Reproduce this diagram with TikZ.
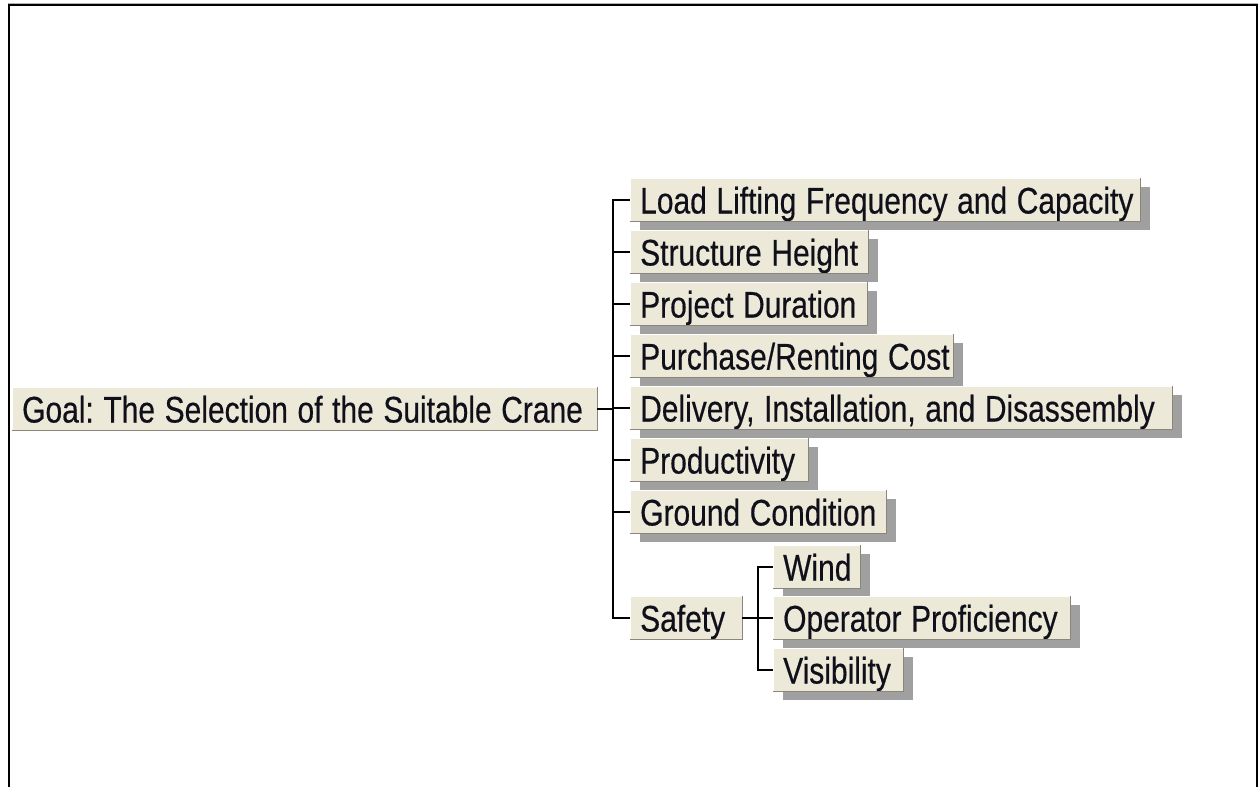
\documentclass[tikz,border=0pt]{standalone}
\usepackage{fontspec}
\setmainfont{Liberation Sans}[FakeStretch=0.81, FakeBold=0.4]
\usetikzlibrary{shadows}
\definecolor{btnface}{HTML}{ECE9D8}
\definecolor{shadowgray}{HTML}{A0A0A0}
\definecolor{btndark}{HTML}{8A877A}
\definecolor{inkc}{HTML}{10101A}
\newcommand\btnfont{\fontsize{37}{40}\selectfont}
\newcommand\btntext[1]{\mbox{\spaceskip=9.6pt\relax\xspaceskip=9.6pt\relax #1}}
\tikzset{
  btn/.style={fill=btnface, anchor=west, minimum height=43pt, inner xsep=10pt, inner ysep=0pt,
    align=left, text=inkc, font=\btnfont, text height=27pt, text depth=0pt},
  leaf/.style={btn, drop shadow={shadow xshift=10pt, shadow yshift=-8pt, fill=shadowgray, opacity=1}},
  wire/.style={line width=1.6pt, black},
  frameline/.style={line width=2pt, black},
}
\begin{document}
\begin{tikzpicture}[x=1pt,y=-1pt]
\useasboundingbox (0,0) rectangle (1259,787);
% frame
\draw[gray!60, line width=1pt] (8,3) -- (1258,3);
\draw[frameline] (9,787) -- (9,5) -- (1257,5) -- (1257,787);
% nodes
\node[btn, text width=565pt] (goal) at (12,409) {\btntext{Goal: The Selection of the Suitable Crane}};
\node[leaf, text width=490pt] (load) at (630,200) {\btntext{Load Lifting Frequency and Capacity}};
\node[leaf, text width=218pt] (struct) at (630,252) {\btntext{Structure Height}};
\node[leaf, text width=217pt] (proj) at (630,304) {\btntext{Project Duration}};
\node[leaf, text width=303pt] (cost) at (630,356) {\btntext{Purchase/Renting Cost}};
\node[leaf, text width=522pt] (deliv) at (630,408) {\btntext{Delivery, Installation, and Disassembly}};
\node[leaf, text width=158pt] (prod) at (630,460) {\btntext{Productivity}};
\node[leaf, text width=236pt] (ground) at (630,512) {\btntext{Ground Condition}};
\node[btn, text width=92pt] (safety) at (630,618) {\btntext{Safety}};
\node[leaf, text width=67pt] (wind) at (773,567) {\btntext{Wind}};
\node[leaf, text width=277pt] (oper) at (773,618) {\btntext{Operator Proficiency}};
\node[leaf, text width=110pt] (vis) at (773,670) {\btntext{Visibility}};
% 3D borders
\foreach \n in {goal,load,struct,proj,cost,deliv,prod,ground,safety,wind,oper,vis}{
  \draw[white, line width=1.5pt] (\n.south west) |- (\n.north east);
  \draw[btndark, line width=1.5pt] (\n.south west) -| (\n.north east);
}
% connectors
\coordinate (j1) at (613,409);
\draw[wire] (goal.east) -- (j1);
\foreach \n in {load,struct,proj,cost,deliv,prod,ground,safety}{
  \draw[wire] (j1) |- (\n.west);
}
\coordinate (j2) at (758,618);
\draw[wire] (safety.east) -- (j2);
\foreach \n in {wind,oper,vis}{
  \draw[wire] (j2) |- (\n.west);
}
\end{tikzpicture}
\end{document}
